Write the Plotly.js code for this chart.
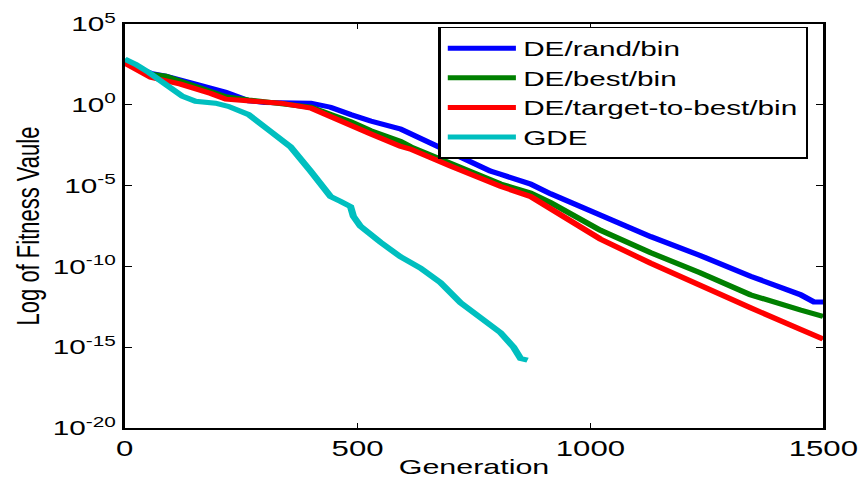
<!DOCTYPE html>
<html>
<head>
<meta charset="utf-8">
<script src="https://cdn.plot.ly/plotly-3.0.1.min.js"></script>
<style>
html,body{margin:0;padding:0;background:#fff;overflow:hidden;}
#wrap{width:861px;height:488px;overflow:hidden;}
#chart{width:594px;height:488px;transform:scaleX(1.4495);transform-origin:0 0;}
</style>
</head>
<body>
<div id="wrap"><div id="chart"></div></div>
<script>
// Generations and log10 fitness values
const genRand = [0, 24, 56, 88, 152, 217, 266, 300, 400, 442, 485, 528, 592, 614, 700, 785, 807, 871, 914, 1021, 1129, 1236, 1343, 1451, 1480, 1500];
const logRand = [2.65, 2.3, 1.95, 1.77, 1.28, 0.78, 0.25, 0.15, 0.1, -0.15, -0.6, -1.0, -1.5, -1.8, -2.94, -4.1, -4.3, -4.9, -5.5, -6.8, -8.15, -9.33, -10.6, -11.75, -12.2, -12.2];

const genBest = [0, 56, 88, 152, 217, 266, 335, 400, 442, 485, 528, 592, 614, 700, 785, 807, 871, 914, 1021, 1129, 1236, 1343, 1451, 1500];
const logBest = [2.65, 1.9, 1.77, 1.1, 0.5, 0.3, 0.1, -0.15, -0.6, -1.05, -1.6, -2.26, -2.6, -3.65, -4.6, -4.9, -5.45, -6.05, -7.76, -9.15, -10.4, -11.75, -12.7, -13.1];

const genT2B = [0, 56, 120, 152, 185, 217, 266, 335, 400, 442, 485, 528, 592, 614, 700, 785, 807, 871, 914, 1021, 1129, 1236, 1343, 1451, 1500];
const logT2B = [2.6, 1.7, 1.28, 1.03, 0.7, 0.35, 0.25, 0.1, -0.2, -0.7, -1.2, -1.8, -2.57, -2.75, -3.8, -4.8, -5.05, -5.67, -6.4, -8.3, -9.8, -11.2, -12.55, -13.9, -14.5];

const genGDE = [0, 24, 52, 88, 124, 152, 195, 223, 266, 313, 356, 399, 442, 464, 485, 491, 506, 549, 592, 635, 678, 721, 764, 807, 835, 850, 865];
const logGDE = [2.83, 2.5, 2.0, 1.28, 0.53, 0.22, 0.1, -0.1, -0.6, -1.64, -2.6, -4.1, -5.67, -5.98, -6.3, -6.9, -7.5, -8.5, -9.4, -10.1, -11.0, -12.25, -13.2, -14.1, -15.0, -15.7, -15.8];

const seriesNames = ['DE/rand/bin', 'DE/best/bin', 'DE/target-to-best/bin', 'GDE'];
const yTickExp = [-20, -15, -10, -5, 0, 5];
const xTickVals = [0, 500, 1000, 1500];

const colors = ['#0000ff', '#008000', '#ff0000', '#00bfbf'];
const toVal = arr => arr.map(v => Math.pow(10, v));

const series = [[genRand, logRand], [genBest, logBest], [genT2B, logT2B], [genGDE, logGDE]];
const traces = series.map((s, i) => ({
  x: s[0], y: toVal(s[1]), type: 'scatter', mode: 'lines', name: seriesNames[i],
  line: {color: colors[i], width: 5}
}));

const layout = {
  width: 594, height: 488,
  margin: {l: 85.5, r: 26.2, t: 24, b: 60},
  paper_bgcolor: '#ffffff', plot_bgcolor: '#ffffff',
  font: {family: 'Liberation Sans, Arial, sans-serif', color: '#000', size: 20},
  showlegend: true,
  legend: {
    x: 0.449, y: 0.993, xanchor: 'left', yanchor: 'top',
    bgcolor: '#ffffff', bordercolor: '#000', borderwidth: 1.5,
    font: {size: 20.5, color: '#000'}, itemwidth: 47, tracegroupgap: 0
  },
  xaxis: {
    range: [0, 1500], tickvals: xTickVals, ticktext: xTickVals.map(String),
    ticks: 'inside', ticklen: 5, tickwidth: 1, tickcolor: '#000',
    showline: true, linecolor: '#000', linewidth: 2, mirror: 'ticks',
    showgrid: false, zeroline: false,
    tickfont: {size: 21.5},
    title: {text: 'Generation', font: {size: 21}, standoff: 0}
  },
  yaxis: {
    type: 'log', range: [-20, 5],
    tickvals: yTickExp.map(e => Math.pow(10, e)),
    ticktext: yTickExp.map(e => '10<sup>' + e + '</sup>'),
    ticks: 'inside', ticklen: 5, tickwidth: 1, tickcolor: '#000',
    showline: true, linecolor: '#000', linewidth: 2, mirror: 'ticks',
    showgrid: false, zeroline: false,
    tickfont: {size: 20.5},
    title: {text: 'Log of Fitness Vaule', font: {size: 22}, standoff: 3}
  }
};

Plotly.newPlot('chart', traces, layout, {displayModeBar: false, staticPlot: true});
</script>
</body>
</html>
